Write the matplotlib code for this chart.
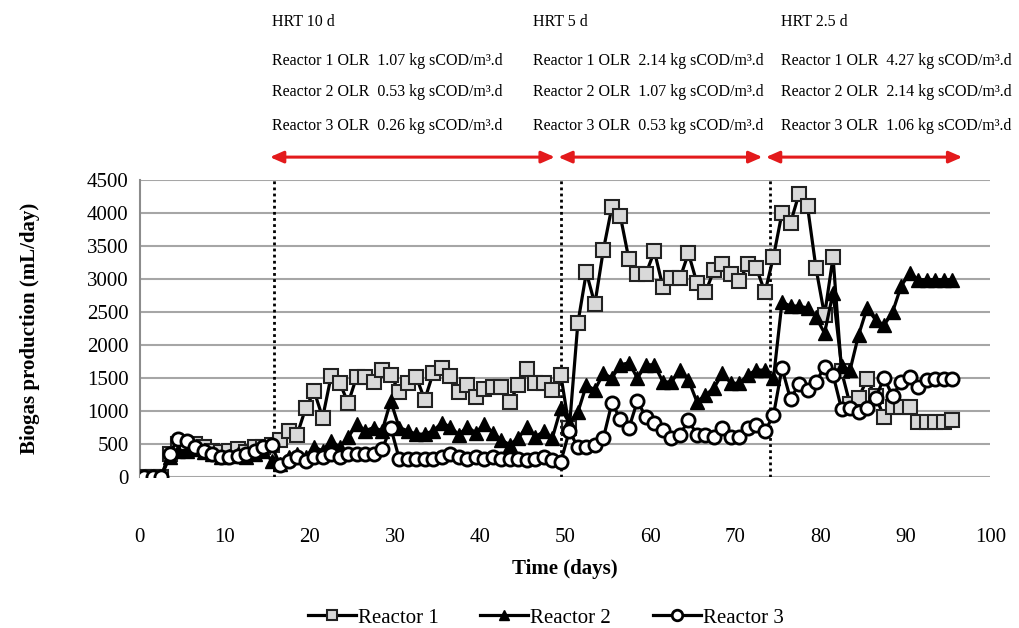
import matplotlib
matplotlib.use("Agg")
import matplotlib.pyplot as plt
import matplotlib.transforms as mtransforms
import numpy as np

plt.rcParams['font.family'] = ['Liberation Serif', 'DejaVu Serif']

# sampling days
days = np.arange(0.5, 96, 1.0)

reactor1 = [0, 0, 0,
            350, 500, 450, 500, 450, 400, 380, 400, 420, 380, 450, 450,
            490, 560, 700, 640, 1040, 1300, 900, 1530, 1430, 1120, 1520, 1520, 1440, 1620, 1550, 1290, 1430, 1520,
            1170, 1580, 1650, 1530, 1290, 1390, 1210, 1330, 1360, 1360, 1140, 1390, 1630, 1430, 1430, 1320, 1545,
            740, 2330, 3100, 2620, 3440, 4090, 3950, 3300, 3080, 3080, 3420, 2880, 3010, 3010, 3390, 2940, 2800,
            3130, 3230, 3070, 2970, 3230, 3160, 2800, 3340,
            4000, 3850, 4290, 4100, 3160, 2450, 3330, 1600, 1100, 1200, 1480, 1220, 910, 1060, 1060, 1060,
            840, 840, 840, 840, 870]

reactor2 = [0, 0, 0,
            300, 400, 400, 420, 380, 350, 300, 320, 350, 300, 350, 400,
            250, 200, 300, 350, 300, 450, 400, 550, 450, 600, 800, 700, 750, 700, 1150, 750, 700, 650,
            650, 700, 820, 760, 640, 760, 670, 800, 670, 560, 490, 590, 760, 610, 690, 590, 1040,
            820, 980, 1390, 1320, 1570, 1500, 1700, 1730, 1500, 1700, 1700, 1440, 1440, 1620, 1470, 1140, 1240,
            1350, 1570, 1420, 1420, 1550, 1620, 1620, 1500,
            2650, 2590, 2590, 2560, 2420, 2180, 2790, 1680, 1620, 2150, 2560, 2380, 2300, 2500, 2890, 3090,
            2990, 2990, 2990, 2990, 2990]

reactor3 = [0, 0, 0,
            350, 580, 550, 450, 400, 350, 300, 300, 320, 350, 400, 450,
            480, 180, 250, 300, 250, 300, 300, 350, 300, 350, 350, 350, 350, 420, 750, 280, 280, 280,
            280, 280, 300, 350, 300, 280, 300, 280, 300, 280, 270, 280, 260, 280, 300, 260, 230,
            700, 450, 450, 480, 590, 1120, 880, 740, 1150, 910, 820, 710, 590, 640, 860, 640, 640,
            610, 740, 610, 610, 740, 790, 690, 940,
            1650, 1180, 1410, 1320, 1440, 1670, 1550, 1030, 1050, 990, 1050, 1200, 1500, 1230, 1440, 1510,
            1360, 1470, 1480, 1480, 1480]

phase_changes = [15.8, 49.5, 74.1]
phase_spans = [(15.3, 48.8), (49.2, 73.2), (73.6, 96.7)]
phase_text_x = [15.6, 46.2, 75.4]
phase_titles = ["HRT 10 d", "HRT 5 d", "HRT 2.5 d"]
olr = [["1.07", "0.53", "0.26"],
       ["2.14", "1.07", "0.53"],
       ["4.27", "2.14", "1.06"]]

fig = plt.figure(figsize=(10.2, 6.28), dpi=100)
ax = fig.add_axes([0.137, 0.2404, 0.834, 0.473])

ax.plot(days, reactor1, color='black', lw=2.3, marker='s', ms=9.5,
        mfc='#d9d9d9', mec='#222222', mew=1.5, label='Reactor 1', zorder=3)
ax.plot(days, reactor2, color='black', lw=2.3, marker='^', ms=9.5,
        mfc='black', mec='black', label='Reactor 2', zorder=3)
ax.plot(days, reactor3, color='black', lw=2.3, marker='o', ms=9.5,
        mfc='white', mec='black', mew=2, label='Reactor 3', zorder=4)

for d in phase_changes:
    ax.axvline(d, color='black', ls=(0, (1, 1.2)), lw=2, zorder=2)

ax.set_xlim(0, 100)
ax.set_ylim(0, 4500)
ax.set_xticks(range(0, 101, 10))
ax.set_yticks(range(0, 4501, 500))
ax.grid(axis='y', color='#a6a6a6', lw=1.5, zorder=0)
ax.tick_params(axis='both', length=0, labelsize=15)
ax.tick_params(axis='x', pad=37)
ax.tick_params(axis='y', pad=8)
for s in ['top', 'right', 'bottom']:
    ax.spines[s].set_visible(False)
ax.spines['left'].set_color('#8c8c8c')
ax.spines['left'].set_linewidth(1.5)

ax.set_xlabel('Time (days)', fontsize=15, fontweight='bold', labelpad=8)
ax.set_ylabel('Biogas production (mL/day)', fontsize=15, fontweight='bold', labelpad=34)

trans = mtransforms.blended_transform_factory(ax.transData, ax.transAxes)
rows_y = [1.40, 1.296, 1.182]
for i in range(3):
    ax.text(phase_text_x[i], 1.532, phase_titles[i], transform=trans,
            fontsize=11.5, va='center', ha='left')
    for r in range(3):
        ax.text(phase_text_x[i], rows_y[r],
                "Reactor %d OLR  %s kg sCOD/m\u00b3.d" % (r + 1, olr[i][r]),
                transform=trans, fontsize=11.5, va='center', ha='left')
    x0, x1 = phase_spans[i]
    ax.annotate('', xy=(x1, 1.077), xytext=(x0, 1.077), xycoords=trans, textcoords=trans,
                arrowprops=dict(arrowstyle='<|-|>,head_length=0.8,head_width=0.35',
                                color='#e31a1c', lw=2.2, shrinkA=0, shrinkB=0),
                annotation_clip=False)

fig.legend(loc='center', bbox_to_anchor=(0.535, 0.016), ncol=3, frameon=False,
           fontsize=15, handlelength=2.3, handletextpad=0.1, columnspacing=2.0,
           markerscale=0.8)

fig.savefig('out.png', dpi=100)
